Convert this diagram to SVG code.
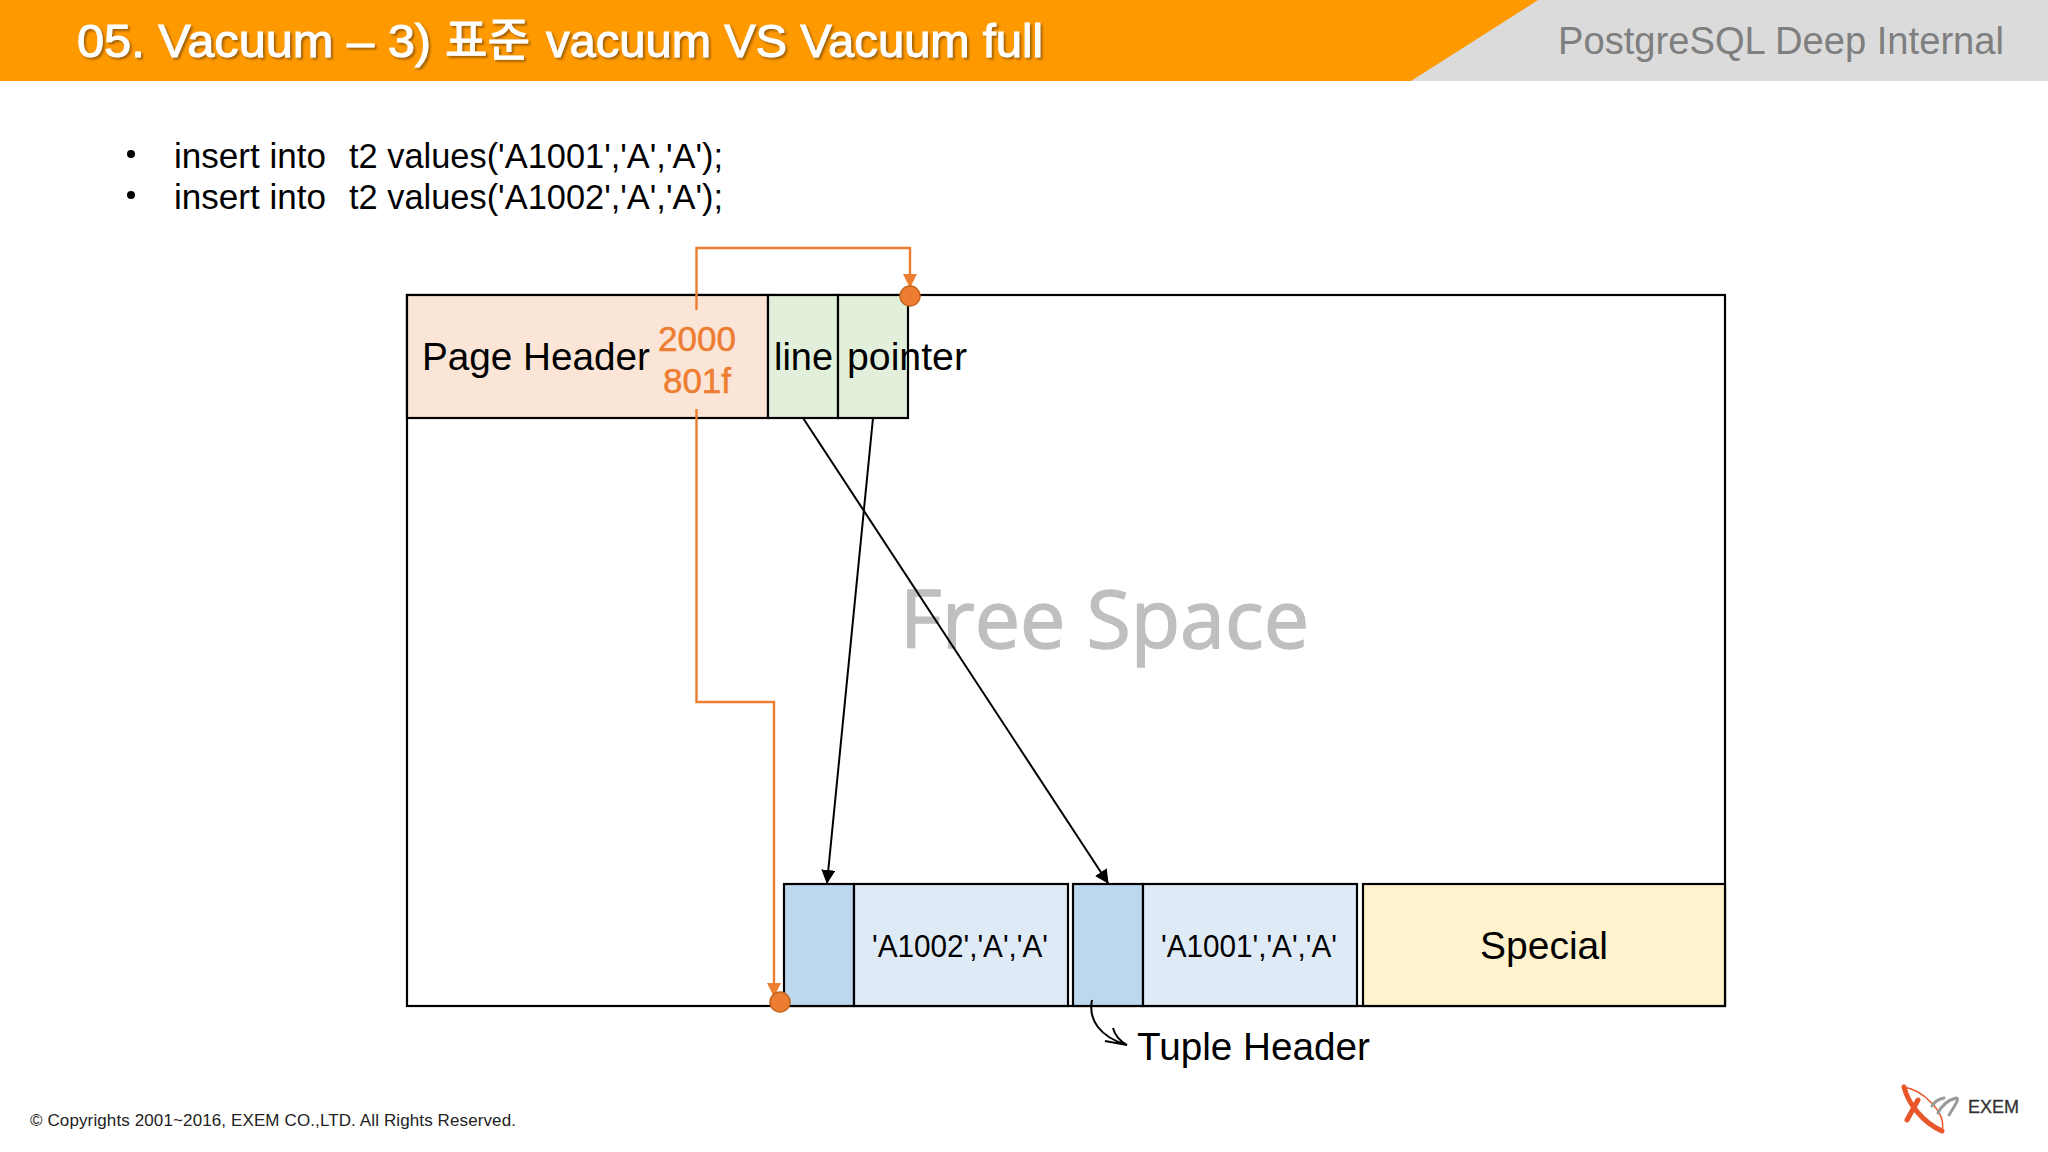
<svg xmlns="http://www.w3.org/2000/svg" width="2048" height="1152" viewBox="0 0 2048 1152">
<style>
text{font-family:"Liberation Sans","Noto Sans CJK KR",sans-serif;fill:#000}
.box{stroke:#000;stroke-width:2.2}
.or{fill:none;stroke:#ed7d31;stroke-width:2.4}
.bk{fill:none;stroke:#000;stroke-width:2}
.dot{fill:#ed7d31;stroke:#c5661f;stroke-width:1.5}
.l{font-size:38px}
.bul{font-size:35px}
.tt{font-size:46px;fill:#fff;stroke:#fff;stroke-width:1;filter:url(#sh)}
.val{font-size:35px;fill:#ed7d31;stroke:#ed7d31;stroke-width:.5}
.cell{font-size:31px}
</style>
<defs>
<filter id="sh" x="-5%" y="-20%" width="110%" height="140%"><feDropShadow dx="2" dy="2" stdDeviation="1" flood-color="#7a4a00" flood-opacity=".7"/></filter>
<marker id="ao" markerUnits="userSpaceOnUse" markerWidth="15" markerHeight="15" refX="13" refY="7" orient="auto"><path d="M0 0L14 7L0 14Z" fill="#ed7d31"/></marker>
<marker id="ab" markerUnits="userSpaceOnUse" markerWidth="15" markerHeight="15" refX="13" refY="7" orient="auto"><path d="M0 0L14 7L0 14Z" fill="#000"/></marker>
</defs>
<rect width="2048" height="1152" fill="#fff"/>
<g id="banner">
<rect width="2048" height="81" fill="#dbdbdb"/>
<path d="M0 0H1538L1411 81H0Z" fill="#ff9900"/>
<text class="tt" x="77" y="57" textLength="354" lengthAdjust="spacingAndGlyphs">05. Vacuum – 3)</text>
<text class="tt" x="445" y="56" textLength="85" lengthAdjust="spacingAndGlyphs" style="font-family:'Noto Sans CJK KR',sans-serif">표준</text>
<text class="tt" x="546" y="57" textLength="497" lengthAdjust="spacingAndGlyphs">vacuum VS Vacuum full</text>
<text x="1558" y="54" font-size="38" textLength="446" lengthAdjust="spacingAndGlyphs" style="fill:#7f7f7f">PostgreSQL Deep Internal</text>
</g>
<g id="bullets">
<circle cx="131" cy="154" r="4"/><circle cx="131" cy="195" r="4"/>
<text class="bul" x="174" y="168" textLength="152" lengthAdjust="spacingAndGlyphs">insert into</text>
<text class="bul" x="349" y="168" textLength="374" lengthAdjust="spacingAndGlyphs">t2 values('A1001','A','A');</text>
<text class="bul" x="174" y="209" textLength="152" lengthAdjust="spacingAndGlyphs">insert into</text>
<text class="bul" x="349" y="209" textLength="374" lengthAdjust="spacingAndGlyphs">t2 values('A1002','A','A');</text>
</g>
<g id="page"><rect class="box" x="407" y="295" width="1318" height="711" fill="#fff"/></g>
<g id="free-space"><text x="900" y="648" textLength="409" lengthAdjust="spacingAndGlyphs" style="font-family:'Open Sans',sans-serif;font-size:80px;fill:#bfbfbf;stroke:#bfbfbf;stroke-width:1.5">Free Space</text></g>
<g id="page-header"><rect class="box" x="407" y="295" width="361" height="123" fill="#fbe5d6"/>
<text class="l" x="422" y="370" textLength="228" lengthAdjust="spacingAndGlyphs">Page Header</text></g>
<g id="lp1"><rect class="box" x="768" y="295" width="70" height="123" fill="#e2efda"/><text class="l" x="774" y="370" textLength="59" lengthAdjust="spacingAndGlyphs">line</text></g>
<g id="lp2"><rect class="box" x="838" y="295" width="70" height="123" fill="#e2efda"/><text class="l" x="847" y="370" textLength="120" lengthAdjust="spacingAndGlyphs">pointer</text></g>
<g id="tuple2"><rect class="box" x="784" y="884" width="70" height="122" fill="#bdd7ee"/><rect class="box" x="854" y="884" width="214" height="122" fill="#deeaf6"/>
<text class="cell" x="872" y="957" textLength="176" lengthAdjust="spacingAndGlyphs">'A1002','A','A'</text></g>
<g id="tuple1"><rect class="box" x="1073" y="884" width="70" height="122" fill="#bdd7ee"/><rect class="box" x="1143" y="884" width="214" height="122" fill="#deeaf6"/>
<text class="cell" x="1161" y="957" textLength="176" lengthAdjust="spacingAndGlyphs">'A1001','A','A'</text></g>
<g id="special"><rect class="box" x="1363" y="884" width="362" height="122" fill="#fff2cc"/><text x="1544" y="959" text-anchor="middle" style="font-size:39px">Special</text></g>
<g id="connectors">
<path class="or" marker-end="url(#ao)" d="M696.500 310V248H910V287"/>
<path class="or" marker-end="url(#ao)" d="M696.500 409V702H774V996"/>
<path class="bk" marker-end="url(#ab)" d="M803 418L1108 883"/>
<path class="bk" marker-end="url(#ab)" d="M873 418L827 883"/>
<path class="bk" d="M1092 1000C1088 1020 1100 1037 1127 1045M1113 1028C1115 1036 1120 1041 1127 1045L1105 1041"/>
</g>
<g id="dots"><circle class="dot" cx="910" cy="296" r="10"/><circle class="dot" cx="780" cy="1002" r="10"/></g>
<g id="values"><text class="val" x="697" y="351" text-anchor="middle">2000</text><text class="val" x="697" y="393" text-anchor="middle">801f</text></g>
<g id="tuple-label"><text x="1137" y="1060" textLength="233" lengthAdjust="spacingAndGlyphs" style="font-size:38px">Tuple Header</text></g>
<g id="footer"><text x="30" y="1126" textLength="486" style="font-size:17px;fill:#222">© Copyrights 2001~2016, EXEM CO.,LTD. All Rights Reserved.</text>
<text x="1968" y="1113" textLength="51" lengthAdjust="spacingAndGlyphs" style="font-size:18px;fill:#333;stroke:#333;stroke-width:.3">EXEM</text></g>
<g id="logo" fill="none" stroke-linecap="round">
<path d="M1904 1087C1908 1103 1922 1122 1942 1131" stroke="#e8562a" stroke-width="5"/>
<path d="M1904 1087C1922 1090 1947 1112 1942 1131" stroke="#e8562a" stroke-width="1.500"/>
<path d="M1918 1100L1907 1120" stroke="#e8562a" stroke-width="5"/>
<path d="M1932 1106C1935 1101 1939 1099 1944 1098M1938 1113C1942 1105 1948 1100 1956 1098C1959 1098 1958 1101 1949 1115" stroke="#9a9a9a" stroke-width="3"/>
</g>
</svg>
